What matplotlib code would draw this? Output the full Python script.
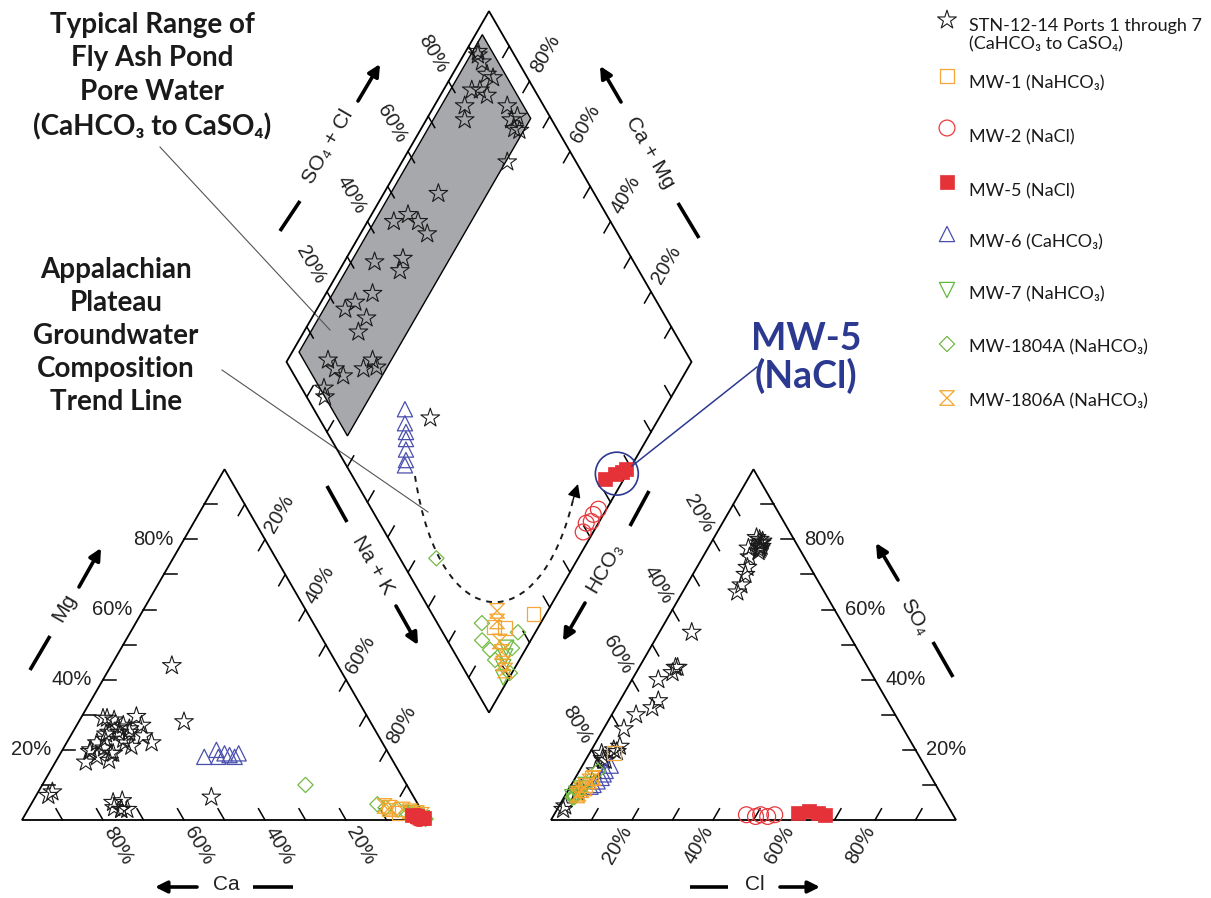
import numpy as np
import matplotlib.pyplot as plt
from matplotlib.patches import Polygon, Circle, PathPatch
from matplotlib.path import Path

# ---------------- data (percent of meq/L) ----------------
# STN-12-14 Ports 1 through 7
stn_mg = [7, 8, 29, 28.5, 26.5, 19.5, 23, 25, 22, 18, 24, 22, 5.5, 3, 3, 28, 29.5, 25, 29,
          19, 21, 16.5, 25, 44, 27, 24.5, 20, 26, 23, 20.5, 19, 27, 3.5, 5, 3, 17, 22, 6.5]
stn_nak = [3, 3.5, 5.5, 8.5, 10.5, 7, 9, 11.5, 7.5, 9.5, 18, 21, 22, 23, 24.5, 26, 13.5, 9, 6.5,
           12.5, 16.5, 7.5, 14, 15, 11.5, 8.5, 7, 13.5, 13.5, 10, 13, 16, 21, 20, 23, 13, 14.5, 43.5]
stn_so4 = [80, 79, 80.5, 78, 79, 72, 75, 77.5, 67, 65, 78, 77, 79.5, 76.5, 77.5, 70, 53.5, 42, 40,
           43.5, 43.5, 30, 34, 32, 26, 20, 19, 19.5, 17, 8, 8.5, 9, 17, 14, 17.5, 4, 3, 21]
stn_cl = [11.5, 12, 10.5, 12.5, 12.5, 12.5, 11.5, 10, 13.5, 13.5, 13, 13, 12.5, 13, 13, 13, 8, 9, 6.5,
          9, 9.5, 6, 9.5, 9, 5, 5.5, 3, 6.5, 5, 2.5, 2.5, 3, 4.5, 4, 4, 1.5, 1.5, 6.5]

mw1_mg = [1, 2, 3]
mw1_nak = [97, 92, 89]
mw1_so4 = [19, 12, 10]
mw1_cl = [6, 4, 3.5]

mw2_mg = [0.5, 1, 0.5, 1, 0.5]
mw2_nak = [97.5, 97, 98, 97.5, 98]
mw2_so4 = [1.5, 1, 1.5, 1, 1.5]
mw2_cl = [47.5, 50, 51, 53, 54.5]

mw5_mg = [1.5, 1, 0.5, 0.5]
mw5_nak = [95.5, 97, 98.5, 99]
mw5_so4 = [2, 2.5, 2, 1.5]
mw5_cl = [60, 62.5, 65, 67]

mw6_mg = [18, 20, 18, 19, 18.5, 18, 19]
mw6_nak = [36, 38, 39.5, 40.5, 42, 43.5, 44]
mw6_so4 = [15.5, 14, 13, 12, 11, 10, 9.5]
mw6_cl = [7, 6.5, 6.5, 6.5, 6, 5.5, 5]

mw7_mg = [1, 1.5, 0.5, 2]
mw7_nak = [97, 96, 98.5, 95]
mw7_so4 = [7.5, 9, 6.5, 10]
mw7_cl = [2.5, 3, 2, 3.5]

mw1804_mg = [4.5, 1.5, 3.5, 3, 1.2, 2, 0.3, 10]
mw1804_nak = [85.5, 95.7, 88, 91.3, 96.5, 94, 99.5, 65]
mw1804_so4 = [8, 14, 6.5, 7, 11, 6.8, 8, 6.5]
mw1804_cl = [3, 4.6, 2.1, 2.2, 3.9, 2.2, 2.8, 2.5]

mw1806_mg = [4, 3.5, 3, 2.5, 2, 1.5]
mw1806_nak = [87.5, 89, 92.5, 94.5, 96.5, 98]
mw1806_so4 = [12, 11, 9, 8.5, 7.5, 7]
mw1806_cl = [4.5, 4, 3.8, 3.3, 3, 3]

# typical fly ash pond pore water range (diamond coordinates, %)
pond_so4cl = [4.5, 95, 95, 4.5]
pond_camg = [98.3, 98.3, 74.4, 74.4]

tick_pct = [10, 20, 30, 40, 50, 60, 70, 80, 90]
label_pct = [20, 40, 60, 80]

# ---------------- geometry ----------------
G = 124 / 405          # gap between the triangles (side = 1)
H = np.sqrt(3) / 2
UC = np.array([-0.5, H])   # Ca+Mg direction in the diamond
UA = np.array([0.5, H])    # SO4+Cl direction in the diamond


def px(x, y):
    # reference picture pixels -> plot units (layout helper)
    return (x - 22) / 405, (820 - y) / 405


def cation_xy(mg, nak):
    mg = np.asarray(mg) / 100
    nak = np.asarray(nak) / 100
    return nak + mg / 2, mg * H


def anion_xy(so4, cl):
    so4 = np.asarray(so4) / 100
    cl = np.asarray(cl) / 100
    return 1 + G + cl + so4 / 2, so4 * H


def diamond_xy(a, c):
    a = np.asarray(a, dtype=float)
    c = np.asarray(c, dtype=float)
    return 1 + G / 2 + 0.5 * (a - c), G * H + H * (a + c)


def diamond_from(mg, nak, so4, cl):
    a = (np.asarray(so4) + np.asarray(cl)) / 100
    c = 1 - np.asarray(nak) / 100
    return diamond_xy(a, c)


# hourglass marker
hourglass = Path([(-1, 1), (1, 1), (-1, -1), (1, -1), (-1, 1)],
                 [Path.MOVETO, Path.LINETO, Path.LINETO, Path.LINETO, Path.CLOSEPOLY])

groups = [
    (stn_mg, stn_nak, stn_so4, stn_cl, dict(marker='*', s=200, facecolors='none', edgecolors='#1a1a1a', linewidths=0.8)),
    (mw6_mg, mw6_nak, mw6_so4, mw6_cl, dict(marker='^', s=120, facecolors='none', edgecolors='#4a4fae', linewidths=0.9)),
    (mw7_mg, mw7_nak, mw7_so4, mw7_cl, dict(marker='v', s=120, facecolors='none', edgecolors='#62b83a', linewidths=0.9)),
    (mw1804_mg, mw1804_nak, mw1804_so4, mw1804_cl, dict(marker='D', s=60, facecolors='none', edgecolors='#74ba45', linewidths=0.9)),
    (mw1_mg, mw1_nak, mw1_so4, mw1_cl, dict(marker='s', s=100, facecolors='none', edgecolors='#f4a63a', linewidths=0.9)),
    (mw1806_mg, mw1806_nak, mw1806_so4, mw1806_cl, dict(marker=hourglass, s=110, facecolors='none', edgecolors='#f5a52c', linewidths=0.9)),
    (mw2_mg, mw2_nak, mw2_so4, mw2_cl, dict(marker='o', s=130, facecolors='none', edgecolors='#e8383d', linewidths=0.9)),
    (mw5_mg, mw5_nak, mw5_so4, mw5_cl, dict(marker='s', s=110, facecolors='#e53238', edgecolors='#e53238', linewidths=0.5)),
]

plt.rcParams['font.family'] = ['Liberation Sans', 'DejaVu Sans']
fig = plt.figure(figsize=(12.11, 8.98), dpi=100)
ax = fig.add_axes([0, 0, 1, 1])
ax.set_xlim(-22 / 405, 1189 / 405)
ax.set_ylim(-78 / 405, 820 / 405)
ax.axis('off')

LW = 1.3
TL = 0.032
FS = 14.5
OFF = 0.072

# frames
left_tri = [(0, 0), (1, 0), (0.5, H)]
right_tri = [(1 + G, 0), (2 + G, 0), (1.5 + G, H)]
dx, dy = diamond_xy([0, 1, 1, 0], [0, 0, 1, 1])
for pts in (left_tri, right_tri, list(zip(dx, dy))):
    ax.add_patch(Polygon(pts, closed=True, fill=False, edgecolor='k', lw=LW, zorder=3))

# grey range of fly ash pond water
gx, gy = diamond_xy(np.array(pond_so4cl) / 100, np.array(pond_camg) / 100)
ax.add_patch(Polygon(list(zip(gx, gy)), closed=True, facecolor='#a6a8ab', edgecolor='k', lw=1.0, zorder=1))


def tick(p, d):
    p = np.asarray(p)
    q = p + TL * np.asarray(d)
    ax.plot([p[0], q[0]], [p[1], q[1]], color='k', lw=1.1, zorder=3)


def lab(p, d, txt, rot, ha='center'):
    q = np.asarray(p) + OFF * np.asarray(d)
    ax.text(q[0], q[1], txt, rotation=rot, ha=ha, va='center', rotation_mode='anchor',
            fontsize=FS, color='#222222', zorder=4)


ox = 1 + G
for pct in tick_pct:
    t = pct / 100
    # left triangle
    tick((t / 2, t * H), (1, 0))                      # Mg
    tick((1 - t, 0), UC)                              # Ca
    tick((0.5 + t / 2, (1 - t) * H), (-0.5, -H))      # Na + K
    # right triangle
    tick((ox + 1 - t / 2, t * H), (-1, 0))            # SO4
    tick((ox + t, 0), UA)                             # Cl
    tick((ox + (1 - t) / 2, (1 - t) * H), (0.5, -H))  # HCO3
    # diamond
    tick(diamond_xy(0, t), UA)
    tick(diamond_xy(1, t), -UA)
    tick(diamond_xy(t, 0), UC)
    tick(diamond_xy(t, 1), -UC)

for pct in label_pct:
    t = pct / 100
    s = f'{pct}%'
    p = np.array((t / 2, t * H))
    ax.text(p[0] - 0.027, p[1], s, ha='right', va='center', fontsize=FS, color='#222222')
    lab((1 - t, 0), (0.5, -H), s, -60)
    lab((0.5 + t / 2, (1 - t) * H), (0.5, H), s, 60)
    p = np.array((ox + 1 - t / 2, t * H))
    ax.text(p[0] + 0.025, p[1], s, ha='left', va='center', fontsize=FS, color='#222222')
    lab((ox + t, 0), (-0.5, -H), s, 60)
    lab((ox + (1 - t) / 2, (1 - t) * H), (-0.5, H), s, -60)
    lab(diamond_xy(1, t), UA * 1.08, s, 60)
    lab(diamond_xy(t, 1), UC * 1.08, s, -60)

# data points
for mg, nak, so4, cl, kw in groups:
    ax.scatter(*cation_xy(mg, nak), zorder=5, **kw)
    ax.scatter(*anion_xy(so4, cl), zorder=5, **kw)
    ax.scatter(*diamond_from(mg, nak, so4, cl), zorder=5, **kw)


# axis titles with bars and arrows
def bar(p0, p1):
    a, b = px(*p0), px(*p1)
    ax.plot([a[0], b[0]], [a[1], b[1]], color='k', lw=2.6, solid_capstyle='butt', zorder=4)


def arrow(tail, head):
    ax.annotate('', xy=px(*head), xytext=px(*tail),
                arrowprops=dict(arrowstyle='-|>,head_length=0.7,head_width=0.35', lw=2.6, color='k',
                                shrinkA=0, shrinkB=0), zorder=4)


def title(x, y, txt, rot):
    ax.text(*px(x, y), txt, rotation=rot, ha='center', va='center', rotation_mode='anchor',
            fontsize=FS + 0.5, color='#222222', family=['Liberation Sans', 'DejaVu Sans'])


bar((30, 670), (50, 636)); title(64, 608, 'Mg', 60); arrow((79, 587), (101, 548))
arrow((197, 887), (155, 887)); title(226, 885, 'Ca', 0); bar((253, 887), (293, 887))
bar((327, 486), (347, 522)); title(373, 565, 'Na + K', -60); arrow((396, 606), (418, 645))
bar((649, 491), (630, 526)); title(605, 567, 'HCO₃', 60); arrow((585, 603), (563, 641))
bar((690, 887), (728, 887)); title(755, 885, 'Cl', 0); arrow((780, 887), (820, 887))
arrow((898, 580), (876, 543)); title(914, 617, 'SO₄', -60); bar((933, 642), (953, 677))
bar((280, 231), (300, 201)); title(328, 147, 'SO₄ + Cl', 60); arrow((358, 101), (380, 64))
arrow((621, 102), (600, 66)); title(650, 153, 'Ca + Mg', -60); bar((678, 203), (699, 238))

# annotations
bold = ['Lato', 'DejaVu Sans']
ax.text(*px(152, 76), 'Typical Range of\nFly Ash Pond\nPore Water\n(CaHCO₃ to CaSO₄)', ha='center', va='center',
        fontsize=20, fontweight='bold', family=bold, color='#1a1a1a', linespacing=1.36)
ax.plot(*zip(px(160, 147), px(330, 330)), color='#555555', lw=0.8, zorder=2)
ax.text(*px(116, 336), 'Appalachian\nPlateau\nGroundwater\nComposition\nTrend Line', ha='center', va='center',
        fontsize=20, fontweight='bold', family=bold, color='#1a1a1a', linespacing=1.34)
ax.plot(*zip(px(222, 370), px(428, 512)), color='#555555', lw=0.8, zorder=2)

# trend line (dashed curve with arrow head)
curve = Path([px(415, 476), px(440, 640), px(540, 640), px(573, 500)],
             [Path.MOVETO, Path.CURVE4, Path.CURVE4, Path.CURVE4])
ax.add_patch(PathPatch(curve, fill=False, edgecolor='#1a1a1a', lw=1.4, ls=(0, (3, 3)), zorder=4))
ax.annotate('', xy=px(578, 484), xytext=px(573, 500),
            arrowprops=dict(arrowstyle='-|>,head_length=0.8,head_width=0.4', color='k', lw=1, shrinkA=0, shrinkB=0))

# MW-5 callout
mx, my = diamond_from(mw5_mg, mw5_nak, mw5_so4, mw5_cl)
ax.add_patch(Circle((np.mean(mx), np.mean(my)), 0.053, fill=False, edgecolor='#2b3990', lw=1.2, zorder=6))
ax.plot(*zip(px(632, 466), px(757, 367)), color='#2b3990', lw=1.1, zorder=6)
ax.text(*px(806, 358), 'MW-5\n(NaCl)', ha='center', va='center', fontsize=27, fontweight='bold',
        family=bold, color='#2b3990', linespacing=1.05)

# legend
leg_items = [
    ('STN-12-14 Ports 1 through 7\n(CaHCO₃ to CaSO₄)', 0, 20, 35),
    ('MW-1 (NaHCO₃)', 4, 76, 83),
    ('MW-2 (NaCl)', 6, 128, 137),
    ('MW-5 (NaCl)', 7, 182, 191),
    ('MW-6 (CaHCO₃)', 1, 234, 242),
    ('MW-7 (NaHCO₃)', 2, 290, 294),
    ('MW-1804A (NaHCO₃)', 3, 344, 347),
    ('MW-1806A (NaHCO₃)', 5, 398, 401),
]
for txt, gi, ym, yt in leg_items:
    ax.scatter(*px(947, ym), zorder=5, **groups[gi][4])
    ax.text(*px(969, yt), txt, ha='left', va='center', fontsize=13, family=['Lato', 'DejaVu Sans'],
            color='#1a1a1a', linespacing=1.2)

fig.savefig('out.png', dpi=100)
